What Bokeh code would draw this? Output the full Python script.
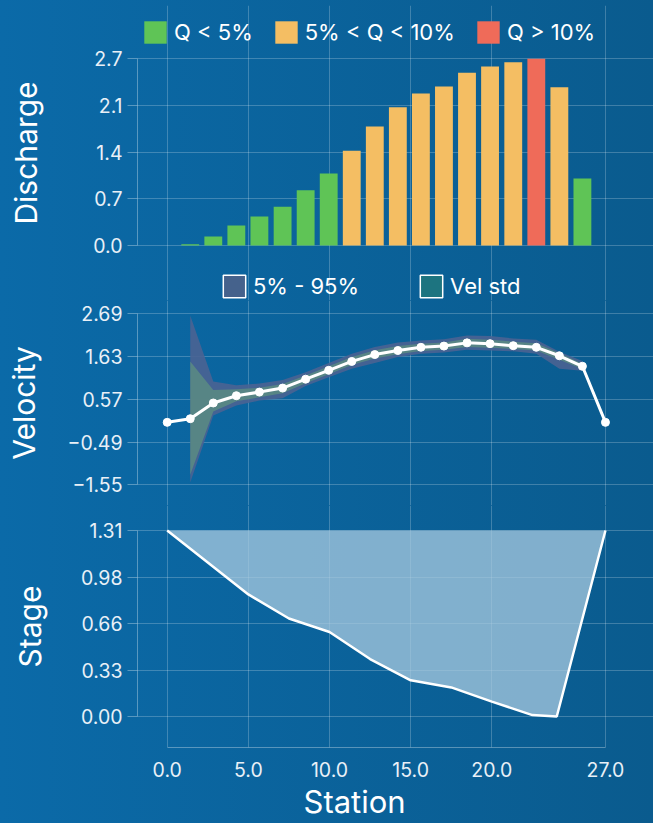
from bokeh.plotting import figure
from bokeh.layouts import column
from bokeh.models import Range1d, FixedTicker, Legend, LegendItem, ColumnDataSource, NumeralTickFormatter, Title
from bokeh.embed import file_html
from bokeh.resources import INLINE

# ---------------- data ----------------
stations = [0.0, 1.42, 2.84, 4.26, 5.68, 7.11, 8.53, 9.95, 11.37, 12.79,
            14.21, 15.63, 17.05, 18.47, 19.89, 21.32, 22.74, 24.16, 25.58, 27.0]
velocity = [0.0, 0.09, 0.48, 0.66, 0.75, 0.85, 1.07, 1.29, 1.51, 1.68,
            1.78, 1.86, 1.89, 1.97, 1.95, 1.90, 1.86, 1.65, 1.39, 0.0]

bar_stations = [1.42, 2.84, 4.26, 5.68, 7.11, 8.53, 9.95, 11.37, 12.79,
                14.21, 15.63, 17.05, 18.47, 19.89, 21.32, 22.74, 24.16, 25.58]
discharge = [0.02, 0.13, 0.29, 0.42, 0.56, 0.80, 1.04, 1.37, 1.72,
             2.00, 2.20, 2.30, 2.50, 2.59, 2.65, 2.70, 2.29, 0.97]
q_class = ["low", "low", "low", "low", "low", "low", "low", "mid", "mid",
           "mid", "mid", "mid", "mid", "mid", "mid", "high", "mid", "low"]
class_labels = {"low": "Q < 5%", "mid": "5% < Q < 10%", "high": "Q > 10%"}
class_colors = {"low": "#5fc456", "mid": "#f4be63", "high": "#ef6b59"}

band_stations = bar_stations
vel_q95 = [2.65, 1.01, 0.92, 0.96, 1.05, 1.24, 1.47, 1.70, 1.87, 1.98, 2.03, 2.06, 2.15, 2.14, 2.08, 2.05, 1.75, 1.52]
vel_q05 = [-1.49, 0.17, 0.42, 0.54, 0.60, 0.90, 1.12, 1.33, 1.47, 1.62, 1.70, 1.73, 1.80, 1.78, 1.76, 1.70, 1.33, 1.28]
vel_std_hi = [1.51, 0.80, 0.82, 0.86, 0.95, 1.16, 1.39, 1.62, 1.79, 1.89, 1.95, 1.98, 2.07, 2.05, 2.00, 1.96, 1.72, 1.45]
vel_std_lo = [-1.30, 0.27, 0.52, 0.62, 0.72, 0.97, 1.19, 1.42, 1.58, 1.69, 1.77, 1.80, 1.87, 1.85, 1.82, 1.78, 1.55, 1.32]

bed_station = [0.0, 5.0, 7.5, 10.0, 12.5, 15.0, 17.5, 20.0, 22.5, 24.0, 27.0]
bed_stage = [1.31, 0.86, 0.69, 0.595, 0.405, 0.255, 0.205, 0.105, 0.01, 0.0, 1.31]
water_level = 1.31

x_ticks = [0, 5, 10, 15, 20, 27]
q_ticks = [0.0, 0.675, 1.35, 2.025, 2.7]
q_tick_labels = ["0.0", "0.7", "1.4", "2.1", "2.7"]
v_ticks = [-1.55, -0.49, 0.57, 1.63, 2.69]
v_tick_labels = ["\u22121.55", "\u22120.49", "0.57", "1.63", "2.69"]
s_ticks = [0.0, 0.3275, 0.655, 0.9825, 1.31]
s_tick_labels = ["0.00", "0.33", "0.66", "0.98", "1.31"]

# ---------------- style ----------------
FONT = "Inter"
GRID = "rgba(255,255,255,0.22)"
AXIS = "rgba(255,255,255,0.32)"
TICK_TXT = "#e9f0f7"
W = 653
LEFT = 137
NAN = float("nan")

xr = Range1d(-1.83, 29.96)


def base_fig(height, yr, top=0, bottom=0):
    p = figure(width=W, height=height, x_range=xr, y_range=yr,
               output_backend="svg", toolbar_location=None,
               min_border_left=LEFT, min_border_right=0, min_border_top=top,
               min_border_bottom=bottom, border_fill_color=None,
               background_fill_color=None, outline_line_color=None)
    p.xgrid.ticker = FixedTicker(ticks=x_ticks)
    p.grid.grid_line_color = GRID
    p.grid.grid_line_width = 1
    return p


def style_y(p, ticks, labels, bounds, title, standoff):
    ax = p.yaxis[0]
    ax.ticker = FixedTicker(ticks=ticks)
    ax.major_label_overrides = {t: l for t, l in zip(ticks, labels)}
    ax.bounds = bounds
    ax.axis_line_color = AXIS
    ax.major_tick_line_color = AXIS
    ax.major_tick_out = 10
    ax.major_tick_in = 0
    ax.minor_tick_line_color = None
    ax.major_label_standoff = 5
    ax.major_label_text_font = FONT
    ax.major_label_text_font_size = "19.5px"
    ax.major_label_text_color = TICK_TXT
    ax.axis_label = title
    ax.axis_label_text_font = FONT
    ax.axis_label_text_font_size = "30px"
    ax.axis_label_text_font_style = "normal"
    ax.axis_label_text_color = "white"
    ax.axis_label_standoff = standoff
    p.ygrid.ticker = FixedTicker(ticks=ticks)


def make_legend(items, loc, spacing):
    return Legend(items=items, location=loc, orientation="horizontal",
                  background_fill_alpha=0, border_line_alpha=0, padding=0, margin=0,
                  spacing=spacing, label_standoff=5, glyph_width=28, glyph_height=28,
                  label_text_font=FONT, label_text_font_size="22px", label_text_color="white")


# ---------------- discharge ----------------
p1 = base_fig(300, Range1d(-0.795, 3.471), top=5)
p1.xaxis.visible = False
src = ColumnDataSource(dict(x=bar_stations, top=discharge,
                            color=[class_colors[c] for c in q_class]))
bars = p1.vbar(x="x", top="top", width=1.1, fill_color="color", line_color=None, source=src)
style_y(p1, q_ticks, q_tick_labels, (0, 2.7), "Discharge", 46)

item_low = LegendItem(label=class_labels["low"], renderers=[bars], index=q_class.index("low"))
item_mid = LegendItem(label=class_labels["mid"], renderers=[bars], index=q_class.index("mid"))
item_high = LegendItem(label=class_labels["high"], renderers=[bars], index=q_class.index("high"))
p1.add_layout(make_legend([item_low, item_mid], (4, 254), 19))
p1.add_layout(make_legend([item_high], (337, 254), 0))

# legend-only proxies for the velocity bands (no visible mark)
prox_a = p1.rect(x=[NAN], y=[NAN], width=1, height=1, fill_color="#45628c", line_color="white", line_width=1.5)
prox_b = p1.rect(x=[NAN], y=[NAN], width=1, height=1, fill_color="#1d7480", line_color="white", line_width=1.5)
p1.add_layout(make_legend([LegendItem(label="5% - 95%", renderers=[prox_a]),
                           LegendItem(label="Vel std", renderers=[prox_b])], (83, 0), 58))

# ---------------- velocity ----------------
p2 = base_fig(205, Range1d(-2.061, 3.020))
p2.xaxis.visible = False
p2.varea(x=band_stations, y1=vel_q05, y2=vel_q95, fill_color="#4a6392", fill_alpha=0.9)
p2.varea(x=band_stations, y1=vel_std_lo, y2=vel_std_hi, fill_color="#5b8b83", fill_alpha=0.85)
p2.line(stations, velocity, line_color="white", line_width=3)
p2.scatter(stations, velocity, size=8, fill_color="white", line_color="white")
style_y(p2, v_ticks, v_tick_labels, (-1.55, 2.69), "Velocity", 22)

# ---------------- stage ----------------
p3 = base_fig(318, Range1d(-0.218, 1.486), bottom=76)
p3.varea(x=bed_station, y1=bed_stage, y2=water_level, fill_color="#a9cbe0", fill_alpha=0.75)
p3.line(bed_station, bed_stage, line_color="white", line_width=2.5)
style_y(p3, s_ticks, s_tick_labels, (0, 1.31), "Stage", 30)

xa = p3.xaxis[0]
xa.ticker = FixedTicker(ticks=x_ticks)
xa.formatter = NumeralTickFormatter(format="0.0")
xa.bounds = (0, 27)
xa.axis_line_color = AXIS
xa.major_tick_out = 0
xa.major_tick_in = 0
xa.minor_tick_line_color = None
xa.major_label_standoff = 14
xa.major_label_text_font = FONT
xa.major_label_text_font_size = "19.5px"
xa.major_label_text_color = TICK_TXT

station_title = Title(text="Station", align="left", offset=166, standoff=3,
                      text_font=FONT, text_font_size="31px", text_font_style="normal",
                      text_color="white")
p3.add_layout(station_title, "below")

layout = column(p1, p2, p3, spacing=0,
                styles={"background": "linear-gradient(90deg, #0b6aa8 0%, #0a5b8e 100%)"})

open("out.html", "w").write(file_html(layout, INLINE))
